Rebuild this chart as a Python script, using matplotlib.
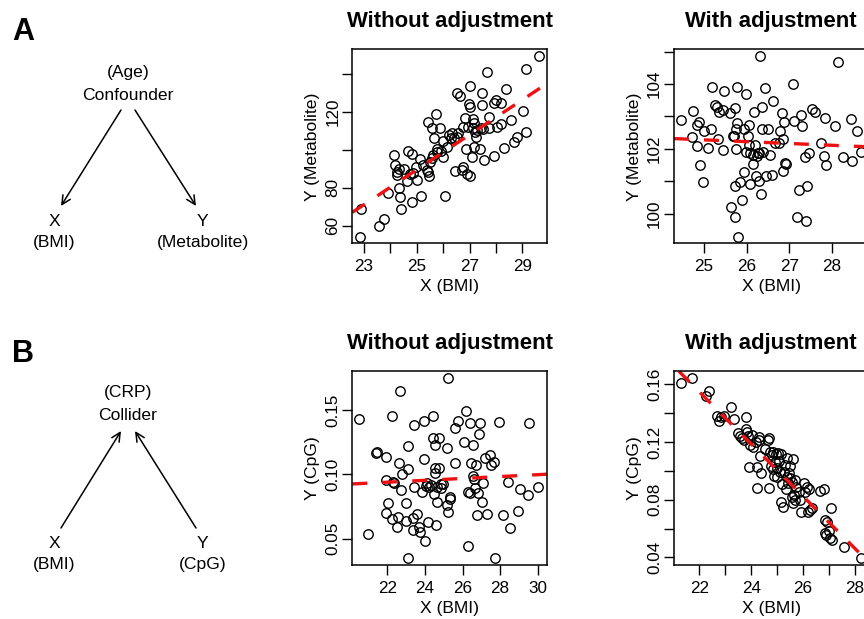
import numpy as np
import matplotlib
matplotlib.use("Agg")
import matplotlib.pyplot as plt
from matplotlib.patches import FancyArrowPatch

plt.rcParams['font.family'] = ['Liberation Sans', 'DejaVu Sans']

# =====================================
# Data
# =====================================

# A: confounder, without adjustment
a_raw_x = [22.85, 22.89, 23.58, 23.76, 23.92, 24.14, 24.19, 24.26, 24.33, 24.26,
           24.34, 24.36, 24.39, 24.53, 24.64, 24.65, 24.80, 24.74, 24.84, 24.83,
           24.97, 25.01, 25.12, 25.15, 25.25, 25.37, 25.44, 25.46, 25.44, 25.56,
           25.50, 25.56, 25.65, 25.72, 25.63, 25.78, 25.88, 25.90, 25.98, 26.01,
           26.08, 26.13, 26.23, 26.28, 26.35, 26.39, 26.46, 26.51, 26.54, 26.57,
           26.62, 26.70, 26.74, 26.76, 26.83, 26.85, 26.89, 26.92, 26.96, 27.00,
           27.02, 27.02, 27.08, 27.12, 27.14, 27.16, 27.18, 27.24, 27.29, 27.40,
           27.42, 27.46, 27.48, 27.52, 27.55, 27.65, 27.75, 27.93, 27.93, 28.00,
           28.03, 28.17, 28.18, 28.31, 28.39, 28.55, 28.67, 28.80, 29.04, 29.14,
           29.14, 29.64, 27.75, 27.20, 25.77]
a_raw_y = [54.2, 68.8, 59.8, 63.3, 77.0, 97.2, 91.9, 88.4, 89.6, 86.7,
           79.6, 75.3, 68.8, 89.6, 83.5, 99.5, 97.5, 87.2, 87.9, 72.5,
           91.1, 83.9, 95.1, 75.6, 91.9, 89.3, 88.4, 86.3, 114.4, 111.6,
           93.7, 95.4, 106.3, 118.8, 97.2, 100.5, 111.4, 99.5, 96.3, 104.6,
           75.4, 101.6, 107.7, 106.3, 108.6, 106.0, 88.9, 106.8, 129.6, 108.6,
           128.4, 89.3, 111.8, 90.7, 116.5, 100.5, 87.2, 112.1, 124.0, 86.1,
           133.5, 122.6, 96.3, 111.2, 116.0, 101.2, 114.2, 106.8, 110.4, 100.2,
           111.2, 123.5, 130.0, 110.9, 94.6, 140.7, 117.0, 96.8, 124.7, 126.1,
           112.1, 124.7, 113.5, 100.7, 131.8, 115.6, 104.2, 106.8, 120.5, 109.3,
           142.5, 149.1, 111.2, 109.5, 98.8]
a_raw_fit = (-140.55, 9.2)  # intercept, slope

# A: confounder, with adjustment
a_adj_x = [24.47, 24.71, 24.75, 24.84, 24.89, 24.84, 24.91, 24.97, 25.00, 25.09,
           25.16, 25.18, 25.26, 25.31, 25.34, 25.36, 25.45, 25.47, 25.45, 25.61,
           25.63, 25.67, 25.71, 25.73, 25.73, 25.73, 25.74, 25.77, 25.77, 25.75,
           25.79, 25.85, 25.89, 25.93, 25.93, 25.99, 25.98, 26.04, 26.06, 26.06,
           26.08, 26.09, 26.14, 26.16, 26.17, 26.20, 26.21, 26.24, 26.26, 26.28,
           26.30, 26.32, 26.34, 26.36, 26.36, 26.39, 26.42, 26.45, 26.50, 26.55,
           26.59, 26.61, 26.67, 26.75, 26.79, 26.83, 26.84, 26.85, 26.88, 26.90,
           26.93, 27.08, 27.11, 27.18, 27.22, 27.27, 27.30, 27.37, 27.39, 27.41,
           27.45, 27.54, 27.59, 27.73, 27.82, 27.84, 27.86, 28.07, 28.14, 28.25,
           28.45, 28.47, 28.59, 28.67]
a_adj_y = [102.89, 102.38, 103.18, 102.74, 102.84, 102.09, 101.51, 100.97, 102.56, 102.02,
           102.60, 103.92, 103.35, 103.28, 102.30, 103.15, 103.20, 103.78, 101.96, 103.12,
           100.20, 102.40, 102.40, 103.25, 99.89, 100.86, 101.99, 103.90, 102.79, 102.60,
           99.29, 100.99, 100.42, 101.30, 102.60, 103.69, 101.89, 102.40, 102.74, 102.12,
           101.86, 100.92, 101.81, 101.55, 103.15, 102.12, 101.18, 101.78, 101.88, 101.02,
           101.86, 104.86, 100.61, 103.30, 102.60, 101.91, 103.87, 101.17, 102.60, 101.81,
           101.19, 103.49, 102.17, 102.17, 102.55, 103.10, 101.33, 102.32, 102.82, 101.58,
           101.53, 103.99, 102.87, 99.91, 100.73, 103.04, 102.70, 101.76, 99.78, 100.86,
           101.88, 103.23, 103.13, 102.17, 101.78, 102.96, 101.50, 102.70, 104.69, 101.76,
           102.91, 101.63, 102.55, 101.91]
a_adj_fit = (103.68, -0.056)

# B: collider, without adjustment
b_raw_x = [20.50, 20.98, 21.42, 21.47, 21.91, 21.91, 21.95, 22.02, 22.27, 22.30,
           22.35, 22.27, 22.62, 22.58, 22.67, 22.53, 22.76, 22.74, 22.97, 23.01,
           23.10, 23.10, 23.10, 23.36, 23.41, 23.41, 23.38, 23.59, 23.68, 23.73,
           23.82, 23.94, 23.94, 24.03, 24.08, 24.12, 24.17, 24.21, 24.30, 24.42,
           24.44, 24.47, 24.53, 24.53, 24.56, 24.61, 24.65, 24.65, 24.74, 24.77,
           24.83, 24.88, 24.95, 25.18, 25.22, 25.18, 25.22, 25.36, 25.36, 25.59,
           25.62, 25.76, 26.06, 26.20, 26.28, 26.29, 26.38, 26.42, 26.43, 26.54,
           26.56, 26.59, 26.65, 26.72, 26.77, 26.82, 26.86, 26.95, 27.04, 27.09,
           27.18, 27.30, 27.45, 27.51, 27.66, 27.74, 27.95, 28.18, 28.40, 28.54,
           28.93, 29.07, 29.46, 29.51, 30.00]
b_raw_y = [0.1427, 0.0536, 0.1168, 0.1176, 0.1132, 0.0956, 0.0697, 0.0775, 0.1453, 0.0943,
           0.0935, 0.0650, 0.1091, 0.0671, 0.1650, 0.0588, 0.1003, 0.0878, 0.0775, 0.0640,
           0.1220, 0.1039, 0.0352, 0.0658, 0.1383, 0.0904, 0.0567, 0.0692, 0.0588, 0.0554,
           0.0865, 0.1117, 0.1417, 0.0484, 0.0909, 0.0935, 0.0632, 0.0904, 0.0917, 0.1453,
           0.1280, 0.0847, 0.1228, 0.1013, 0.1047, 0.0606, 0.0788, 0.0904, 0.1280, 0.1047,
           0.0922, 0.0891, 0.0925, 0.1202, 0.1746, 0.0762, 0.0710, 0.0826, 0.0806, 0.1358,
           0.1085, 0.1417, 0.1254, 0.1492, 0.0865, 0.0443, 0.0852, 0.1396, 0.1085, 0.1228,
           0.0987, 0.0961, 0.0891, 0.1073, 0.0684, 0.0852, 0.1313, 0.1402, 0.0788, 0.0930,
           0.1124, 0.0692, 0.1150, 0.1073, 0.1098, 0.0352, 0.1409, 0.0684, 0.0940, 0.0580,
           0.0715, 0.0886, 0.0839, 0.1402, 0.0904]
b_raw_fit = (0.0778, 0.00073)

# B: collider, with adjustment
b_adj_x = [21.29, 21.70, 22.26, 22.37, 22.67, 22.76, 22.82, 22.95, 23.21, 23.34,
           23.50, 23.57, 23.63, 23.72, 23.79, 23.80, 23.85, 23.89, 23.91, 23.95,
           24.02, 24.06, 24.18, 24.21, 24.24, 24.29, 24.31, 24.36, 24.40, 24.53,
           24.66, 24.70, 24.70, 24.72, 24.75, 24.79, 24.83, 24.85, 24.88, 24.92,
           24.96, 24.98, 25.01, 25.05, 25.08, 25.11, 25.15, 25.17, 25.21, 25.24,
           25.28, 25.30, 25.33, 25.37, 25.40, 25.43, 25.46, 25.49, 25.52, 25.56,
           25.58, 25.60, 25.62, 25.65, 25.69, 25.71, 25.75, 25.84, 25.88, 25.94,
           26.03, 26.07, 26.14, 26.20, 26.24, 26.27, 26.37, 26.65, 26.81, 26.87,
           26.93, 26.84, 26.91, 27.01, 27.04, 27.10, 27.13, 27.59, 28.23]
b_adj_y = [0.1612, 0.1642, 0.1521, 0.1554, 0.1380, 0.1348, 0.1376, 0.1380, 0.1445, 0.1360,
           0.1260, 0.1242, 0.1225, 0.1214, 0.1371, 0.1288, 0.1272, 0.1242, 0.1024, 0.1179,
           0.1249, 0.1168, 0.1202, 0.1029, 0.0879, 0.1232, 0.1214, 0.1105, 0.0987, 0.1151,
           0.1214, 0.1230, 0.0879, 0.1133, 0.1034, 0.1110, 0.1010, 0.1133, 0.0964, 0.1064,
           0.1117, 0.1017, 0.0955, 0.1121, 0.1070, 0.0994, 0.1117, 0.0786, 0.0909, 0.0751,
           0.0994, 0.1040, 0.0872, 0.0960, 0.1087, 0.0913, 0.0983, 0.0948, 0.1034, 0.0821,
           0.0925, 0.0775, 0.1082, 0.0832, 0.0936, 0.0798, 0.0890, 0.0851, 0.0798, 0.0717,
           0.0913, 0.0855, 0.0890, 0.0717, 0.0872, 0.0728, 0.0740, 0.0860, 0.0872, 0.0659,
           0.0647, 0.0566, 0.0555, 0.0585, 0.0532, 0.0740, 0.0520, 0.0474, 0.0398]
b_adj_fit = (0.5523, -0.01807)

# tick positions and labels
a_raw_xticks = [23, 24, 25, 26, 27, 28, 29]
a_raw_xlabels = ['23', '', '25', '', '27', '', '29']
a_raw_yticks = [60, 80, 100, 120, 140]
a_raw_ylabels = ['60', '80', '', '120', '']
a_adj_xticks = [25, 26, 27, 28]
a_adj_xlabels = ['25', '26', '27', '28']
a_adj_yticks = [100, 101, 102, 103, 104, 105]
a_adj_ylabels = ['100', '', '102', '', '104', '']
b_raw_xticks = [22, 24, 26, 28, 30]
b_raw_xlabels = ['22', '24', '26', '28', '30']
b_raw_yticks = [0.05, 0.10, 0.15]
b_raw_ylabels = ['0.05', '0.10', '0.15']
b_adj_xticks = [22, 23, 24, 25, 26, 27, 28]
b_adj_xlabels = ['22', '', '24', '', '26', '', '28']
b_adj_yticks = [0.04, 0.06, 0.08, 0.10, 0.12, 0.14, 0.16]
b_adj_ylabels = ['0.04', '', '0.08', '', '0.12', '', '0.16']

# =====================================
# Figure
# =====================================
W, H = 864, 619
fig = plt.figure(figsize=(W / 100, H / 100), dpi=100)


def scatter_panel(rect, x, y, fit, xlim, ylim, xticks, xlabels, yticks, ylabels,
                  title, ylabel):
    ax = fig.add_axes(rect)
    ax.plot(x, y, 'o', mfc='none', mec='black', ms=6.8, mew=1.0)
    ax.axline((0, fit[0]), slope=fit[1], color='#ee1111', lw=2.4,
              linestyle=(0, (4.5, 4.5)))
    ax.set_xlim(xlim)
    ax.set_ylim(ylim)
    ax.set_xticks(xticks)
    ax.set_xticklabels(xlabels)
    ax.set_yticks(yticks)
    ax.set_yticklabels(ylabels, rotation=90, va='center')
    ax.tick_params(length=7.2, width=1.0, labelsize=12.3)
    ax.tick_params(axis='x', pad=4)
    ax.tick_params(axis='y', pad=1.5)
    for s in ax.spines.values():
        s.set_linewidth(1.1)
    ax.set_title(title, fontsize=15.9, fontweight='bold', pad=16)
    ax.set_xlabel('X (BMI)', fontsize=12.6, labelpad=4)
    ax.set_ylabel(ylabel, fontsize=12.6, labelpad=3.5)
    return ax


scatter_panel([0.4078, 0.6069, 0.2250, 0.3134], a_raw_x, a_raw_y, a_raw_fit,
              (22.56, 29.92), (50.7, 152.8), a_raw_xticks, a_raw_xlabels,
              a_raw_yticks, a_raw_ylabels, 'Without adjustment', 'Y (Metabolite)')
scatter_panel([0.7801, 0.6069, 0.2250, 0.3134], a_adj_x, a_adj_y, a_adj_fit,
              (24.30, 28.85), (99.09, 105.07), a_adj_xticks, a_adj_xlabels,
              a_adj_yticks, a_adj_ylabels, 'With adjustment', 'Y (Metabolite)')
scatter_panel([0.4078, 0.0872, 0.2250, 0.3129], b_raw_x, b_raw_y, b_raw_fit,
              (20.14, 30.48), (0.0295, 0.180), b_raw_xticks, b_raw_xlabels,
              b_raw_yticks, b_raw_ylabels, 'Without adjustment', 'Y (CpG)')
scatter_panel([0.7801, 0.0872, 0.2250, 0.3129], b_adj_x, b_adj_y, b_adj_fit,
              (21.02, 28.53), (0.0347, 0.169), b_adj_xticks, b_adj_xlabels,
              b_adj_yticks, b_adj_ylabels, 'With adjustment', 'Y (CpG)')

# =====================================
# DAG diagrams (drawn in pixel space)
# =====================================
dag = fig.add_axes([0, 0, 1, 1], zorder=-1)
dag.set_xlim(0, W)
dag.set_ylim(H, 0)
dag.axis('off')

txt = dict(fontsize=12.6, ha='center', va='center')
dag.text(12, 40, 'A', fontsize=22, fontweight='bold', ha='left', va='baseline')
dag.text(128, 72, '(Age)', **txt)
dag.text(128, 95, 'Confounder', **txt)
dag.text(54, 222, 'X', **txt)
dag.text(54, 242, '(BMI)', **txt)
dag.text(202, 222, 'Y', **txt)
dag.text(203, 242, '(Metabolite)', **txt)

dag.text(12, 362, 'B', fontsize=22, fontweight='bold', ha='left', va='baseline')
dag.text(128, 393, '(CRP)', **txt)
dag.text(128, 416, 'Collider', **txt)
dag.text(54, 544, 'X', **txt)
dag.text(54, 565, '(BMI)', **txt)
dag.text(202, 544, 'Y', **txt)
dag.text(203, 565, '(CpG)', **txt)

arrows = [((121, 110), (61, 206)), ((135, 110), (196, 206)),
          ((61, 528), (121, 431)), ((196, 528), (135, 431))]
for start, end in arrows:
    dag.add_patch(FancyArrowPatch(start, end, arrowstyle='->,head_length=0.45,head_width=0.22',
                                  mutation_scale=14, lw=1.1, color='black',
                                  shrinkA=0, shrinkB=0))

fig.savefig('out.png', dpi=100)
